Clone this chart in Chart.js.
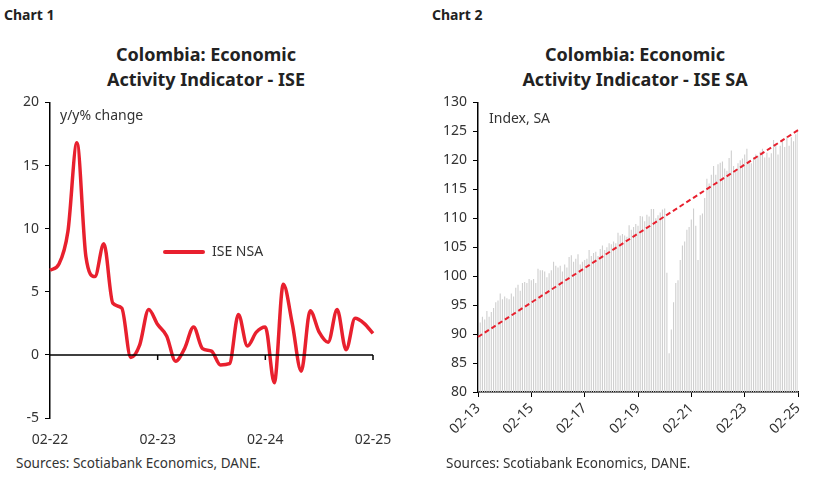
<!DOCTYPE html>
<html>
<head>
<meta charset="utf-8">
<script src="https://cdn.jsdelivr.net/npm/chart.js@4"></script>
<style>
  body { margin: 0; width: 828px; height: 483px; background: #fff; font-family: "Noto Sans", sans-serif; color: #222; position: relative; overflow: hidden; }
  .abs { position: absolute; }
  .lbl { font-weight: bold; font-size: 14px; }
  .ttl { font-weight: bold; font-size: 18px; text-align: center; line-height: 25px; width: 380px; }
  .src { font-size: 13.5px; color: #333; }
  .note { font-size: 14px; color: #333; }
</style>
</head>
<body>
<div class="abs lbl" style="left:4px;top:5px">Chart 1</div>
<div class="abs lbl" style="left:432px;top:5px">Chart 2</div>
<div class="abs ttl" style="left:16px;top:42px">Colombia: Economic<br>Activity Indicator - ISE</div>
<div class="abs ttl" style="left:445px;top:42px">Colombia: Economic<br>Activity Indicator - ISE SA</div>
<canvas id="c1" class="abs" style="left:0;top:88px" width="400" height="362"></canvas>
<canvas id="c2" class="abs" style="left:420px;top:88px" width="400" height="372"></canvas>
<div class="abs note" style="left:60px;top:105px">y/y% change</div>
<div class="abs note" style="left:489px;top:108px">Index, SA</div>
<div class="abs" style="left:163px;top:250px;width:42px;height:4px;background:#e8202e;border-radius:2px"></div>
<div class="abs note" style="left:212px;top:241px">ISE NSA</div>
<div class="abs src" style="left:16px;top:454px">Sources: Scotiabank Economics, DANE.</div>
<div class="abs src" style="left:446px;top:454px">Sources: Scotiabank Economics, DANE.</div>
<script>
// chart 1: monthly y/y % change, 02-22 .. 02-25
let iseLabels = ['02-22','03-22','04-22','05-22','06-22','07-22','08-22','09-22','10-22','11-22','12-22','01-23',
                 '02-23','03-23','04-23','05-23','06-23','07-23','08-23','09-23','10-23','11-23','12-23','01-24',
                 '02-24','03-24','04-24','05-24','06-24','07-24','08-24','09-24','10-24','11-24','12-24','01-25','02-25']
let iseNsa = [6.7, 7.2, 9.8, 16.8, 7.8, 6.2, 8.8, 4.1, 3.7, -0.2, 0.8, 3.6,
              2.4, 1.5, -0.5, 0.5, 2.2, 0.5, 0.3, -0.8, -0.7, 3.2, 0.7, 1.8,
              2.2, -2.2, 5.6, 2.5, -1.3, 3.5, 1.8, 1.0, 3.6, 0.4, 2.9, 2.5, 1.7]
let iseTicks = ['02-22', '02-23', '02-24', '02-25']

// chart 2: monthly index SA, 02-13 .. 02-25
let saValues = [
  89.5, 92, 93, 92.5, 94, 93, 93.8, 94.5, 95.5, 95.8, 97, 96,
  96.5, 96.2, 96, 97, 96.5, 98, 98.5, 97.5, 98.8, 99, 98.8, 99.5,
  99.3, 99.5, 98.8, 101.3, 101, 101, 100.8, 99.8, 100.5, 101, 102.5, 101.8,
  101.5, 101.8, 100.8, 102, 101.5, 103.3, 103.6, 102.5, 103, 103.8, 102, 102.5,
  102.8, 103, 104.5, 103.5, 104, 104.2, 103.5, 104.7, 105.3, 104.5, 105, 105.7,
  105.5, 106, 105.7, 107.5, 107, 107.3, 107, 106.8, 108.8, 108, 108.5, 109,
  108.7, 110.4, 110.3, 109.5, 110.6, 110.3, 111.6, 111.6, 110, 110.5, 111, 111.5,
  111.7, 100.6, 86.7, 90.8, 95.5, 98.8, 99.3, 102.8, 105.3, 106, 108, 108.5,
  109.8, 111.7, 108.7, 102.8, 110.5, 110.8, 113.5, 116.8, 116, 117.5, 119, 117.5,
  119.3, 119.6, 119.8, 118.6, 118.2, 120.4, 121.7, 119, 118.5, 119.5, 120, 120.3,
  121, 122, 120, 119.5, 120.5, 121, 120.8, 121.5, 122, 120.5, 121.3, 120.5,
  121.2, 123.5, 122.8, 121, 122.5, 123.7, 122.3, 124.2, 122.5, 124, 123.3, 124.5,
  125.3]
let trendStart = 89.5
let trendEnd = 125.2

let saLabels = []
for (let y = 13; y <= 25; y++) {
    for (let m = 2; m <= 13; m++) {
        if (y == 25 && m > 2) break
        let mm = m > 12 ? 1 : m
        let yy = m > 12 ? y + 1 : y
        saLabels.push(String(mm).padStart(2, '0') + '-' + yy)
    }
}
saLabels = saLabels.slice(0, saValues.length)
let trend = saValues.map((v, i) => i == 0 ? trendStart : (i == saValues.length - 1 ? trendEnd : null))

Chart.defaults.font.family = '"Noto Sans", sans-serif'
Chart.defaults.font.size = 14
Chart.defaults.color = '#333'

// zero line and small ticks for chart 1
let zeroLine = {
    id: 'zeroLine',
    afterDatasetsDraw(chart) {
        let ctx = chart.ctx
        let x = chart.scales.x, y = chart.scales.y
        let y0 = y.getPixelForValue(0)
        ctx.save()
        ctx.strokeStyle = '#000'
        ctx.lineWidth = 1.5
        ctx.beginPath()
        ctx.moveTo(chart.chartArea.left, y0)
        ctx.lineTo(chart.chartArea.right, y0)
        ;[12, 24, 36].forEach(i => {
            let px = x.getPixelForValue(i)
            ctx.moveTo(px, y0)
            ctx.lineTo(px, y0 + 5)
        })
        ctx.stroke()
        ctx.restore()
    }
}

new Chart(document.getElementById('c1'), {
    type: 'line',
    data: {
        labels: iseLabels,
        datasets: [{
            label: 'ISE NSA',
            data: iseNsa,
            borderColor: '#e8202e',
            borderWidth: 3.5,
            pointRadius: 0,
            cubicInterpolationMode: 'monotone',
            tension: 0.4
        }]
    },
    options: {
        responsive: false,
        animation: false,
        layout: { padding: { top: 4, right: 27, bottom: 0, left: 0 } },
        plugins: { legend: { display: false }, tooltip: { enabled: false } },
        scales: {
            x: {
                grid: { display: false },
                border: { display: false },
                ticks: {
                    autoSkip: false, maxRotation: 0, padding: 6,
                    callback: (v, i) => iseTicks.includes(iseLabels[i]) ? iseLabels[i] : ''
                },
                afterFit: s => { s.height = 32 }
            },
            y: {
                min: -5, max: 20,
                ticks: { stepSize: 5, padding: 6 },
                grid: { drawOnChartArea: false, tickLength: 5, color: '#000' },
                border: { color: '#000', width: 1.5 },
                afterFit: s => { s.width = 50 }
            }
        }
    },
    plugins: [zeroLine]
})

new Chart(document.getElementById('c2'), {
    data: {
        labels: saLabels,
        datasets: [{
            type: 'line',
            label: 'Trend',
            data: trend,
            spanGaps: true,
            borderColor: '#e8202e',
            borderWidth: 2,
            borderDash: [5, 3],
            pointRadius: 0
        }, {
            type: 'bar',
            label: 'ISE SA',
            data: saValues,
            backgroundColor: '#cfcfcf',
            barPercentage: 0.5,
            categoryPercentage: 1
        }]
    },
    options: {
        responsive: false,
        animation: false,
        layout: { padding: { top: 14, right: 22, bottom: 0, left: 0 } },
        plugins: { legend: { display: false }, tooltip: { enabled: false } },
        scales: {
            x: {
                offset: false,
                grid: {
                    drawOnChartArea: false, tickLength: 5, offset: false,
                    color: c => c.index % 24 == 0 ? '#000' : 'rgba(0,0,0,0)'
                },
                border: { color: '#000', width: 1.5 },
                ticks: {
                    autoSkip: false, minRotation: 45, maxRotation: 45,
                    callback: (v, i) => i % 24 == 0 ? saLabels[i] : ''
                },
                afterFit: s => { s.height = 68 }
            },
            y: {
                min: 80, max: 130,
                ticks: { stepSize: 5, padding: 6 },
                grid: { drawOnChartArea: false, tickLength: 5, color: '#000' },
                border: { color: '#000', width: 1.5 },
                afterFit: s => { s.width = 58 }
            }
        }
    }
})
</script>
</body>
</html>
